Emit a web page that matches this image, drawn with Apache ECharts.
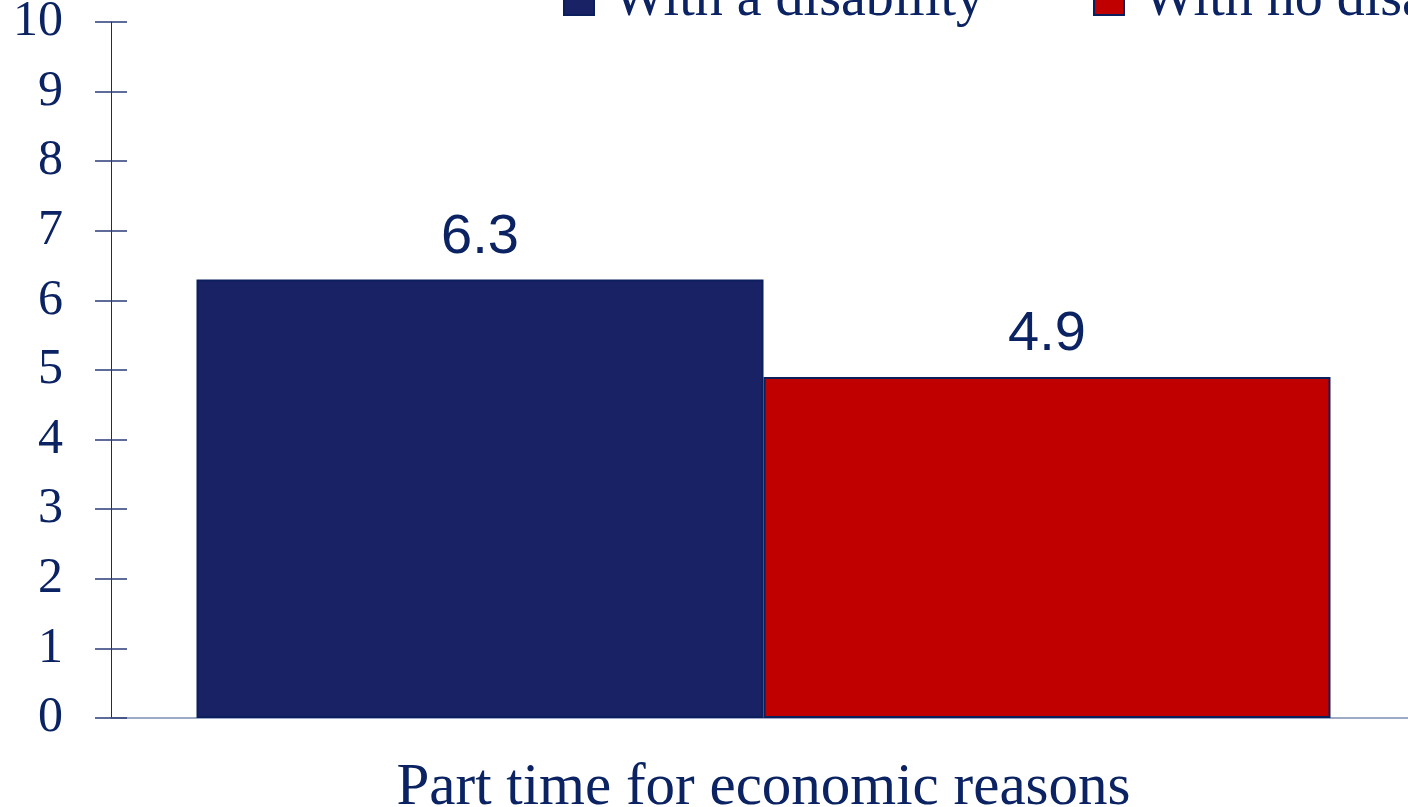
<!DOCTYPE html>
<html><head><meta charset="utf-8">
<script src="https://cdn.jsdelivr.net/npm/echarts@6/dist/echarts.min.js"></script>
<style>html,body{margin:0;padding:0;background:#fff}#c{width:1408px;height:807px}</style>
</head><body><div id="c"></div>
<script>
const categories = ['Part time for economic reasons'];
const seriesNames = ['With a disability', 'With no disability'];
const disabilityValues = [6.3];
const noDisabilityValues = [4.9];
const yTicks = [0, 1, 2, 3, 4, 5, 6, 7, 8, 9, 10];

const navy = '#0b2362';
const chart = echarts.init(document.getElementById('c'), null, {renderer: 'canvas'});
const yCommon = {
  type: 'value', min: yTicks[0], max: yTicks[yTicks.length - 1], interval: 1,
  splitLine: {show: false}, position: 'left', offset: 0
};
const legendCommon = {
  top: -33, orient: 'horizontal',
  itemWidth: 30, itemHeight: 30, icon: 'rect',
  textStyle: {fontFamily: 'Liberation Serif', fontSize: 56, color: navy, padding: [0, 0, 0, 14]}
};
chart.setOption({
  animation: false,
  legend: [
    Object.assign({}, legendCommon, {data: [seriesNames[0]], left: 558}),
    Object.assign({}, legendCommon, {data: [seriesNames[1]], left: 1088})
  ],
  grid: {left: 111, right: -8, top: 22, bottom: 89, containLabel: false, outerBoundsMode: 'none'},
  xAxis: {
    type: 'category', data: categories,
    axisLine: {lineStyle: {color: '#7d8fb3', width: 1.5}},
    axisTick: {show: false},
    axisLabel: {fontFamily: 'Liberation Serif', fontSize: 59, color: navy, margin: 41}
  },
  yAxis: [
    Object.assign({}, yCommon, {
      axisLine: {show: true, lineStyle: {color: '#1b2a66', width: 1}},
      axisTick: {show: true, length: 16, inside: false, lineStyle: {color: '#2b3d78', width: 1.5}},
      axisLabel: {fontFamily: 'Liberation Serif', fontSize: 50, color: navy, margin: 48}
    }),
    Object.assign({}, yCommon, {
      axisLine: {show: false},
      axisTick: {show: true, length: 16, inside: true, lineStyle: {color: '#2b3d78', width: 1.5}},
      axisLabel: {show: false}
    })
  ],
  series: [
    {
      name: seriesNames[0], type: 'bar', data: disabilityValues,
      barWidth: 567, barGap: '0%',
      itemStyle: {color: '#1a2266', borderColor: '#0a1f5c', borderWidth: 2},
      label: {show: true, position: 'top', distance: 14, fontFamily: 'Liberation Sans', fontSize: 56, color: navy}
    },
    {
      name: seriesNames[1], type: 'bar', data: noDisabilityValues,
      barWidth: 567, barGap: '0%',
      itemStyle: {color: '#c00000', borderColor: '#0a1f5c', borderWidth: 2},
      label: {show: true, position: 'top', distance: 14, fontFamily: 'Liberation Sans', fontSize: 56, color: navy}
    }
  ]
});
</script></body></html>
